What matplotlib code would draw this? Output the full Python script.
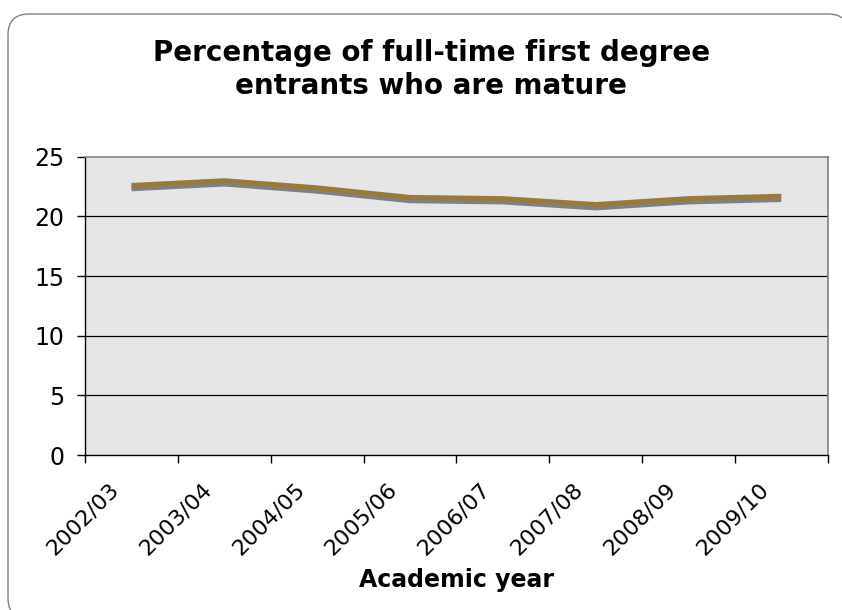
import matplotlib.pyplot as plt
import matplotlib.patheffects as pe
import matplotlib.transforms as mtransforms
from matplotlib.patches import FancyBboxPatch
import numpy as np

# ---------------------------------------------
# Data.
# ---------------------------------------------
years = ["2002/03", "2003/04", "2004/05", "2005/06",
         "2006/07", "2007/08", "2008/09", "2009/10"]
mature_pct = [22.6, 23.0, 22.4, 21.6, 21.5, 21.0, 21.5, 21.7]

yticks = [0, 5, 10, 15, 20, 25]

# ---------------------------------------------
# Figure.
# ---------------------------------------------
plt.rcParams['font.family'] = ['DejaVu Sans']
fig = plt.figure(figsize=(8.42, 6.10), dpi=100)

# rounded outer frame (in inches, runs off the right and bottom edges)
frame = FancyBboxPatch((0.08, -0.09), 8.41, 6.05,
                       boxstyle="round,pad=0,rounding_size=0.21",
                       transform=fig.dpi_scale_trans, facecolor="white",
                       edgecolor="#808080", linewidth=1.0, zorder=-10)
fig.patches.append(frame)

ax = fig.add_axes([0.101, 0.254, 0.882, 0.489])
ax.set_facecolor("#e6e6e6")

x = np.arange(len(years))
ax.plot(x, mature_pct, color="#9a7a3a", linewidth=3.5, solid_capstyle="butt",
        path_effects=[pe.SimpleLineShadow(offset=(0, -2.5), shadow_color="#808080", alpha=1.0),
                      pe.Normal()], zorder=3)

ax.set_xlim(-0.5, len(years) - 0.5)
ax.set_ylim(0, 25)
ax.set_yticks(yticks)
ax.set_yticklabels([str(v) for v in yticks], fontsize=17)

ax.set_xticks(x)
ax.set_xticklabels(years, rotation=45, ha="right", va="top", fontsize=16,
                   rotation_mode="anchor")
ax.set_xticks(np.arange(len(years) + 1) - 0.5, minor=True)
ax.tick_params(axis="x", which="major", length=0, pad=14)
ax.tick_params(axis="x", which="minor", length=6, width=1, color="black", direction="out")
ax.tick_params(axis="y", length=6, width=1, direction="out", pad=9)

# shift the rotated labels a bit left/down like the original
shift = mtransforms.ScaledTranslation(-0.23, -0.05, fig.dpi_scale_trans)
for lbl in ax.get_xticklabels():
    lbl.set_transform(lbl.get_transform() + shift)

for v in yticks[1:-1]:
    ax.axhline(v, color="black", linewidth=0.9, zorder=1)

for side in ["left", "bottom"]:
    ax.spines[side].set_color("black")
    ax.spines[side].set_linewidth(1.0)
for side in ["top", "right"]:
    ax.spines[side].set_color("#808080")
    ax.spines[side].set_linewidth(1.2)

ax.set_xlabel("Academic year", fontsize=17, fontweight="bold", va="center")
ax.xaxis.set_label_coords(0.5416, 0.049, transform=fig.transFigure)

fig.text(0.512, 0.886, "Percentage of full-time first degree\nentrants who are mature",
         ha="center", va="center", fontsize=20, fontweight="bold", linespacing=1.25)

fig.savefig("out.png", dpi=100)
